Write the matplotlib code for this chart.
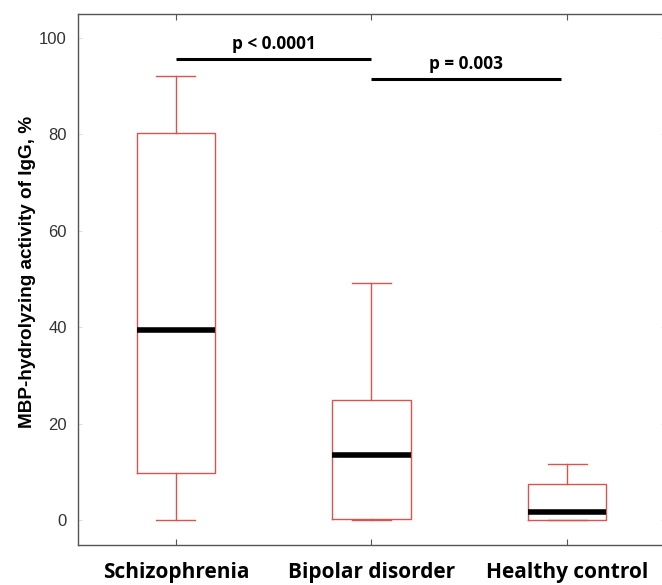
import numpy as np
import matplotlib
matplotlib.use("Agg")
import matplotlib.pyplot as plt

groups = ["Schizophrenia", "Bipolar disorder", "Healthy control"]
whisker_low = [0.0, 0.0, 0.0]
q1 = [9.8, 0.1, 0.0]
medians = [39.5, 13.4, 1.7]
q3 = [80.2, 24.8, 7.5]
whisker_high = [92.2, 49.1, 11.7]

yticks = [0, 20, 40, 60, 80, 100]
comparisons = [(1, 2, 95.6, "p < 0.0001"), (2, 2.97, 91.5, "p = 0.003")]

box_color = "#d9534f"

fig = plt.figure(figsize=(6.62, 5.85), dpi=100)
ax = fig.add_axes([78/662, 40/585, (665-78)/662, 531/585])

stats = []
for i, g in enumerate(groups):
    stats.append(dict(label=g, whislo=whisker_low[i], q1=q1[i], med=medians[i],
                      q3=q3[i], whishi=whisker_high[i], fliers=[]))

ax.bxp(stats, positions=[1, 2, 3], widths=0.4, showfliers=False,
       boxprops=dict(color=box_color, lw=1),
       whiskerprops=dict(color=box_color, lw=1),
       capprops=dict(color=box_color, lw=1),
       medianprops=dict(color="black", lw=4, solid_capstyle="butt"),
       capwidths=0.2)

for x0, x1, y, txt in comparisons:
    ax.plot([x0, x1], [y, y], color="black", lw=2.2, solid_capstyle="butt")
    ax.text((x0 + x1) / 2, y + 1.3, txt, ha="center", va="bottom",
            fontsize=12.3, fontweight="bold", family="Open Sans")

ax.set_xlim(0.5, 3.5)
ax.set_ylim(-5.2, 105)
ax.set_yticks(yticks)
ax.set_xticks([1, 2, 3])
ax.set_xticklabels(groups, fontsize=15, fontweight="bold", family="Open Sans")
for lab in ax.get_yticklabels():
    lab.set_family("Liberation Sans")
    lab.set_fontsize(12)
    lab.set_color("#333333")
ax.tick_params(axis="x", direction="in", length=4, color="#555555", pad=12, top=True)
ax.tick_params(axis="y", direction="in", length=3, color="#dddddd", pad=8, right=True)
ax.set_ylabel("MBP-hydrolyzing activity of IgG, %", fontsize=13.6, fontweight="bold",
              family="Liberation Sans")
ax.yaxis.set_label_coords(-0.072, 0.515)
for s in ax.spines.values():
    s.set_color("#555555")
    s.set_linewidth(1.0)

fig.savefig("out.png", dpi=100)
